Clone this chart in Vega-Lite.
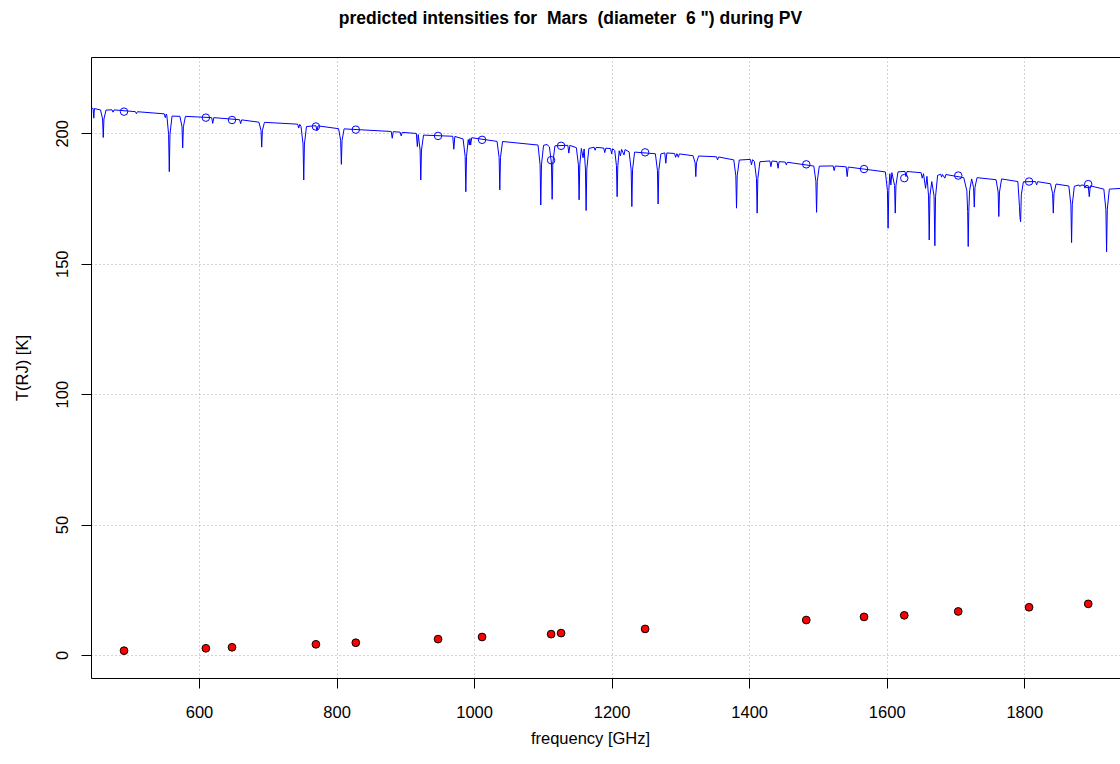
{
  "$schema": "https://vega.github.io/schema/vega-lite/v6.json",
  "width": 1029,
  "height": 621,
  "autosize": {"type": "none"},
  "padding": {"left": 91, "top": 57, "right": 0, "bottom": 86},
  "background": "white",
  "config": {
    "font": "Liberation Sans",
    "view": {"stroke": null}
  },
  "title": {
    "text": "predicted intensities for \u00a0Mars \u00a0(diameter \u00a06 \") during PV",
    "fontSize": 17.5,
    "fontWeight": "bold",
    "color": "black",
    "anchor": "middle",
    "frame": "group",
    "dx": -35,
    "baseline": "alphabetic",
    "offset": 16
  },
  "datasets": {
    "spec": [
      {"f": 443, "t": 209.64}, {"f": 446, "t": 209.56}, {"f": 447, "t": 205.8}, {"f": 448, "t": 209.5},
      {"f": 456.8, "t": 208.95}, {"f": 459.8, "t": 205.5}, {"f": 460.8, "t": 198.4}, {"f": 461.8, "t": 205.5}, {"f": 464.8, "t": 208.9},
      {"f": 473.5, "t": 209.0}, {"f": 475, "t": 208.1}, {"f": 476.5, "t": 208.97},
      {"f": 507.5, "t": 208.3}, {"f": 509, "t": 207.5}, {"f": 510.5, "t": 208.27},
      {"f": 549.5, "t": 207.46}, {"f": 551, "t": 206.0}, {"f": 552.5, "t": 207.4}, {"f": 553.3, "t": 206.7}, {"f": 555.8, "t": 199.6}, {"f": 556.8, "t": 185.3}, {"f": 557.8, "t": 199.6}, {"f": 560.8, "t": 206.6},
      {"f": 572.3, "t": 206.5}, {"f": 575.3, "t": 202.5}, {"f": 576.3, "t": 194.4}, {"f": 577.3, "t": 202.5}, {"f": 580.3, "t": 206.5},
      {"f": 618.5, "t": 206.0}, {"f": 620, "t": 203.8}, {"f": 621.5, "t": 206.0},
      {"f": 659, "t": 205.2}, {"f": 660.6, "t": 203.7}, {"f": 662, "t": 205.15},
      {"f": 687.2, "t": 204.25}, {"f": 690.2, "t": 201.1}, {"f": 691.2, "t": 194.7}, {"f": 692.2, "t": 201.1}, {"f": 695.2, "t": 204.2},
      {"f": 743.5, "t": 203.5}, {"f": 745, "t": 202.0}, {"f": 746.5, "t": 203.4},
      {"f": 748.3, "t": 202.7}, {"f": 751.3, "t": 195.9}, {"f": 752.3, "t": 182.1}, {"f": 753.3, "t": 195.9}, {"f": 756.3, "t": 202.6},
      {"f": 770.1, "t": 202.9}, {"f": 771.6, "t": 201.0}, {"f": 773.1, "t": 202.85},
      {"f": 803, "t": 201.76}, {"f": 806, "t": 197.25}, {"f": 807, "t": 188.1}, {"f": 808, "t": 197.2}, {"f": 811, "t": 201.7},
      {"f": 879.5, "t": 200.7}, {"f": 881, "t": 198.1}, {"f": 882.5, "t": 200.63},
      {"f": 892.5, "t": 200.43}, {"f": 894, "t": 199.0}, {"f": 895.5, "t": 200.37},
      {"f": 916, "t": 199.94}, {"f": 917.5, "t": 194.9}, {"f": 918.8, "t": 199.5}, {"f": 921.5, "t": 193.6}, {"f": 922.5, "t": 182.1}, {"f": 923.5, "t": 193.6}, {"f": 926.5, "t": 199.3},
      {"f": 969, "t": 198.86}, {"f": 970.5, "t": 193.9}, {"f": 972, "t": 198.8},
      {"f": 984, "t": 197.84}, {"f": 987, "t": 191.2}, {"f": 988, "t": 177.6}, {"f": 989, "t": 191.2}, {"f": 991.5, "t": 197.6}, {"f": 993, "t": 195.5}, {"f": 994, "t": 198.0}, {"f": 995, "t": 195.5}, {"f": 996.5, "t": 198.3},
      {"f": 1033.4, "t": 196.9}, {"f": 1036.4, "t": 190.75}, {"f": 1037.4, "t": 178.3}, {"f": 1038.4, "t": 190.75}, {"f": 1041.4, "t": 196.85},
      {"f": 1093, "t": 195.5}, {"f": 1096, "t": 187.9}, {"f": 1097, "t": 172.5}, {"f": 1098, "t": 187.9}, {"f": 1101, "t": 195.4},
      {"f": 1106, "t": 195.7}, {"f": 1109.5, "t": 194.8}, {"f": 1112.5, "t": 188.5}, {"f": 1113.5, "t": 174.7}, {"f": 1114.5, "t": 188.5}, {"f": 1117.5, "t": 195.2},
      {"f": 1136.3, "t": 195.4}, {"f": 1137.8, "t": 192.4}, {"f": 1139.3, "t": 195.35},
      {"f": 1148.7, "t": 194.5}, {"f": 1151.7, "t": 187.9}, {"f": 1152.7, "t": 174.5}, {"f": 1153.7, "t": 187.9}, {"f": 1156, "t": 194.2}, {"f": 1158.5, "t": 190.6}, {"f": 1160, "t": 194.0}, {"f": 1161.9, "t": 186.3}, {"f": 1162.9, "t": 170.4}, {"f": 1163.9, "t": 186.3}, {"f": 1166.9, "t": 194.2},
      {"f": 1174.5, "t": 194.65}, {"f": 1176, "t": 193.5}, {"f": 1177.5, "t": 194.6},
      {"f": 1188.5, "t": 194.35}, {"f": 1190, "t": 192.6}, {"f": 1191.5, "t": 194.3},
      {"f": 1198.5, "t": 194.15}, {"f": 1200, "t": 192.1}, {"f": 1201.5, "t": 194.1},
      {"f": 1204.5, "t": 193.4}, {"f": 1207, "t": 187.6}, {"f": 1208, "t": 175.7}, {"f": 1209, "t": 187.6}, {"f": 1211, "t": 193.3}, {"f": 1212.8, "t": 191.3}, {"f": 1214.5, "t": 193.85}, {"f": 1218, "t": 191.7}, {"f": 1219.5, "t": 193.75},
      {"f": 1225.4, "t": 192.9}, {"f": 1228.4, "t": 186.0}, {"f": 1229.4, "t": 171.9}, {"f": 1230.4, "t": 186.0}, {"f": 1233.4, "t": 192.8},
      {"f": 1263.6, "t": 192.15}, {"f": 1266.6, "t": 185.8}, {"f": 1267.6, "t": 172.9}, {"f": 1268.6, "t": 185.8}, {"f": 1271.6, "t": 192.1},
      {"f": 1277.3, "t": 192.5}, {"f": 1278.8, "t": 188.5}, {"f": 1280.3, "t": 192.47},
      {"f": 1291.5, "t": 192.25}, {"f": 1293, "t": 190.8}, {"f": 1295, "t": 192.2}, {"f": 1297, "t": 190.8}, {"f": 1298.5, "t": 192.1},
      {"f": 1318.4, "t": 191.4}, {"f": 1321.4, "t": 188.7}, {"f": 1322.4, "t": 183.4}, {"f": 1323.4, "t": 188.7}, {"f": 1326.4, "t": 191.3},
      {"f": 1352.5, "t": 191.0}, {"f": 1354, "t": 189.8}, {"f": 1355.5, "t": 190.93},
      {"f": 1377.6, "t": 189.8}, {"f": 1380.6, "t": 183.7}, {"f": 1381.6, "t": 171.3}, {"f": 1382.6, "t": 183.7}, {"f": 1385.6, "t": 189.75},
      {"f": 1401.8, "t": 190.0}, {"f": 1403.3, "t": 187.9}, {"f": 1405, "t": 189.9},
      {"f": 1407.6, "t": 189.2}, {"f": 1410.6, "t": 182.65}, {"f": 1411.6, "t": 169.4}, {"f": 1412.6, "t": 182.65}, {"f": 1415.6, "t": 189.1},
      {"f": 1430.1, "t": 189.4}, {"f": 1431.6, "t": 187.2}, {"f": 1433.1, "t": 189.35},
      {"f": 1440.5, "t": 189.2}, {"f": 1442, "t": 186.6}, {"f": 1443.5, "t": 189.13},
      {"f": 1452.5, "t": 188.95}, {"f": 1454, "t": 187.9}, {"f": 1455.5, "t": 188.9},
      {"f": 1494, "t": 187.45}, {"f": 1497, "t": 181.6}, {"f": 1498, "t": 169.7}, {"f": 1499, "t": 181.6}, {"f": 1502, "t": 187.4},
      {"f": 1522.1, "t": 187.5}, {"f": 1523.6, "t": 185.7}, {"f": 1525.1, "t": 187.46},
      {"f": 1541, "t": 187.15}, {"f": 1542.5, "t": 183.4}, {"f": 1544, "t": 187.07},
      {"f": 1598, "t": 185.2}, {"f": 1601, "t": 178.1}, {"f": 1602, "t": 163.6}, {"f": 1603, "t": 178.1}, {"f": 1604.5, "t": 184.5}, {"f": 1606, "t": 180.2}, {"f": 1607.5, "t": 184.9},
      {"f": 1611.4, "t": 180.0}, {"f": 1612.4, "t": 169.4}, {"f": 1613.4, "t": 180.0}, {"f": 1616.4, "t": 185.2},
      {"f": 1626.5, "t": 185.4}, {"f": 1628, "t": 183.4}, {"f": 1629.5, "t": 185.35},
      {"f": 1650, "t": 184.9}, {"f": 1651.6, "t": 182.8}, {"f": 1653.5, "t": 184.5}, {"f": 1656.5, "t": 178.9}, {"f": 1658.5, "t": 183.5},
      {"f": 1660.8, "t": 176.0}, {"f": 1661.8, "t": 159.1}, {"f": 1662.8, "t": 176.0}, {"f": 1665.5, "t": 181.5},
      {"f": 1668.8, "t": 176.0}, {"f": 1670, "t": 156.9}, {"f": 1671, "t": 175.8}, {"f": 1674, "t": 183.9},
      {"f": 1678.5, "t": 184.3}, {"f": 1679.7, "t": 183.2}, {"f": 1681, "t": 184.2}, {"f": 1684.6, "t": 182.8}, {"f": 1686, "t": 184.2},
      {"f": 1712, "t": 183.0}, {"f": 1716.5, "t": 178.0}, {"f": 1717.7, "t": 170.0}, {"f": 1718.5, "t": 156.6}, {"f": 1719.3, "t": 170.0}, {"f": 1720.5, "t": 178.0}, {"f": 1723.5, "t": 182.5},
      {"f": 1726.3, "t": 179.2}, {"f": 1727.3, "t": 171.7}, {"f": 1728.3, "t": 179.2}, {"f": 1731.3, "t": 183.0},
      {"f": 1759, "t": 182.2}, {"f": 1762, "t": 177.5}, {"f": 1763, "t": 168.1}, {"f": 1764, "t": 177.5}, {"f": 1767, "t": 182.5},
      {"f": 1790.7, "t": 181.5}, {"f": 1793, "t": 172.0}, {"f": 1793.7, "t": 168.0}, {"f": 1794.7, "t": 166.1}, {"f": 1795.7, "t": 176.4}, {"f": 1798.7, "t": 181.4},
      {"f": 1816.4, "t": 181.5}, {"f": 1817.9, "t": 180.2}, {"f": 1819.4, "t": 181.45},
      {"f": 1838.2, "t": 180.65}, {"f": 1841.2, "t": 176.9}, {"f": 1842.2, "t": 169.4}, {"f": 1843.2, "t": 176.9}, {"f": 1846.2, "t": 180.55},
      {"f": 1864.8, "t": 179.8}, {"f": 1867.8, "t": 172.6}, {"f": 1868.8, "t": 158.1}, {"f": 1869.8, "t": 172.6}, {"f": 1872.8, "t": 179.7},
      {"f": 1879.5, "t": 180.2}, {"f": 1881, "t": 179.6}, {"f": 1882.5, "t": 180.15}, {"f": 1886.8, "t": 180.1}, {"f": 1888.3, "t": 179.0}, {"f": 1889.8, "t": 180.0},
      {"f": 1893, "t": 179.9}, {"f": 1894.5, "t": 175.7}, {"f": 1896, "t": 179.85},
      {"f": 1915.7, "t": 178.6}, {"f": 1918.7, "t": 170.7}, {"f": 1919.7, "t": 154.6}, {"f": 1920.7, "t": 170.7}, {"f": 1923.7, "t": 178.6},
      {"f": 1942, "t": 178.9}
    ],
    "pts": [
      {"f": 491, "tb": 208.3, "tr": 1.65},
      {"f": 610, "tb": 206.0, "tr": 2.57},
      {"f": 648, "tb": 205.1, "tr": 2.95},
      {"f": 770, "tb": 202.6, "tr": 4.1},
      {"f": 828, "tb": 201.4, "tr": 4.7},
      {"f": 947.6, "tb": 199.0, "tr": 6.1},
      {"f": 1011.6, "tb": 197.5, "tr": 6.9},
      {"f": 1112, "tb": 189.7, "tr": 8.0},
      {"f": 1126.5, "tb": 195.2, "tr": 8.4},
      {"f": 1248.7, "tb": 192.7, "tr": 10.0},
      {"f": 1483, "tb": 188.1, "tr": 13.4},
      {"f": 1567, "tb": 186.3, "tr": 14.6},
      {"f": 1625.5, "tb": 182.8, "tr": 15.2},
      {"f": 1704, "tb": 183.8, "tr": 16.7},
      {"f": 1807, "tb": 181.5, "tr": 18.3},
      {"f": 1893, "tb": 180.5, "tr": 19.6}
    ]
  },
  "resolve": {"axis": {"x": "independent"}},
  "layer": [
    {
      "data": {"name": "spec"},
      "mark": {"type": "line", "color": "#0000ff", "strokeWidth": 1, "clip": true},
      "encoding": {
        "x": {
          "field": "f", "type": "quantitative",
          "scale": {"domain": [442.97, 1939.2], "nice": false, "zero": false},
          "axis": {
            "orient": "bottom",
            "values": [600, 800, 1000, 1200, 1400, 1600, 1800],
            "format": "d",
            "title": "frequency [GHz]",
            "grid": true, "gridColor": "#a8a8a8", "gridDash": [1, 3], "gridWidth": 1,
            "domainColor": "black", "domainWidth": 1,
            "tickColor": "black", "tickSize": 10, "tickWidth": 1,
            "labelFontSize": 16.5, "labelColor": "black", "labelPadding": 16, "labelBaseline": "top",
            "labelFlush": false, "labelOverlap": false,
            "titleFontSize": 16.5, "titleFontWeight": "normal", "titleColor": "black",
            "titleBaseline": "alphabetic", "titleAlign": "center", "titleX": 499, "titleY": 65
          }
        },
        "y": {
          "field": "t", "type": "quantitative",
          "scale": {"domain": [-8.82, 229.25], "nice": false, "zero": false},
          "axis": {
            "orient": "left",
            "values": [0, 50, 100, 150, 200],
            "title": "T(RJ) [K]",
            "grid": true, "gridColor": "#a8a8a8", "gridDash": [1, 3], "gridWidth": 1,
            "domainColor": "black", "domainWidth": 1,
            "tickColor": "black", "tickSize": 10, "tickWidth": 1,
            "labelFontSize": 16.5, "labelColor": "black", "labelPadding": 14,
            "labelAngle": -90, "labelAlign": "center", "labelBaseline": "alphabetic",
            "labelFlush": false, "labelOverlap": false,
            "titleFontSize": 16.5, "titleFontWeight": "normal", "titleColor": "black",
            "titleAngle": -90, "titleAlign": "center", "titleBaseline": "alphabetic",
            "titleX": -64, "titleY": 310.5
          }
        }
      }
    },
    {
      "data": {"name": "pts"},
      "mark": {"type": "point", "shape": "circle", "filled": false, "color": "#0000ff", "strokeWidth": 1, "size": 56, "opacity": 1},
      "encoding": {
        "x": {
          "field": "f", "type": "quantitative",
          "axis": {"orient": "top", "labels": false, "ticks": false, "grid": false, "title": null, "domain": true, "domainColor": "black", "domainWidth": 1}
        },
        "y": {
          "field": "tb", "type": "quantitative",
          "axis": {
            "orient": "left",
            "values": [0, 50, 100, 150, 200],
            "title": "T(RJ) [K]",
            "grid": true, "gridColor": "#a8a8a8", "gridDash": [1, 3], "gridWidth": 1,
            "domainColor": "black", "domainWidth": 1,
            "tickColor": "black", "tickSize": 10, "tickWidth": 1,
            "labelFontSize": 16.5, "labelColor": "black", "labelPadding": 14,
            "labelAngle": -90, "labelAlign": "center", "labelBaseline": "alphabetic",
            "labelFlush": false, "labelOverlap": false,
            "titleFontSize": 16.5, "titleFontWeight": "normal", "titleColor": "black",
            "titleAngle": -90, "titleAlign": "center", "titleBaseline": "alphabetic",
            "titleX": -64, "titleY": 310.5
          }
        }
      }
    },
    {
      "data": {"name": "pts"},
      "mark": {"type": "point", "shape": "circle", "filled": true, "fill": "#ff0000", "stroke": "black", "strokeWidth": 1, "size": 60, "opacity": 1},
      "encoding": {
        "x": {"field": "f", "type": "quantitative", "axis": null},
        "y": {
          "field": "tr", "type": "quantitative",
          "axis": {
            "orient": "left",
            "values": [0, 50, 100, 150, 200],
            "title": "T(RJ) [K]",
            "grid": true, "gridColor": "#a8a8a8", "gridDash": [1, 3], "gridWidth": 1,
            "domainColor": "black", "domainWidth": 1,
            "tickColor": "black", "tickSize": 10, "tickWidth": 1,
            "labelFontSize": 16.5, "labelColor": "black", "labelPadding": 14,
            "labelAngle": -90, "labelAlign": "center", "labelBaseline": "alphabetic",
            "labelFlush": false, "labelOverlap": false,
            "titleFontSize": 16.5, "titleFontWeight": "normal", "titleColor": "black",
            "titleAngle": -90, "titleAlign": "center", "titleBaseline": "alphabetic",
            "titleX": -64, "titleY": 310.5
          }
        }
      }
    }
  ]
}
